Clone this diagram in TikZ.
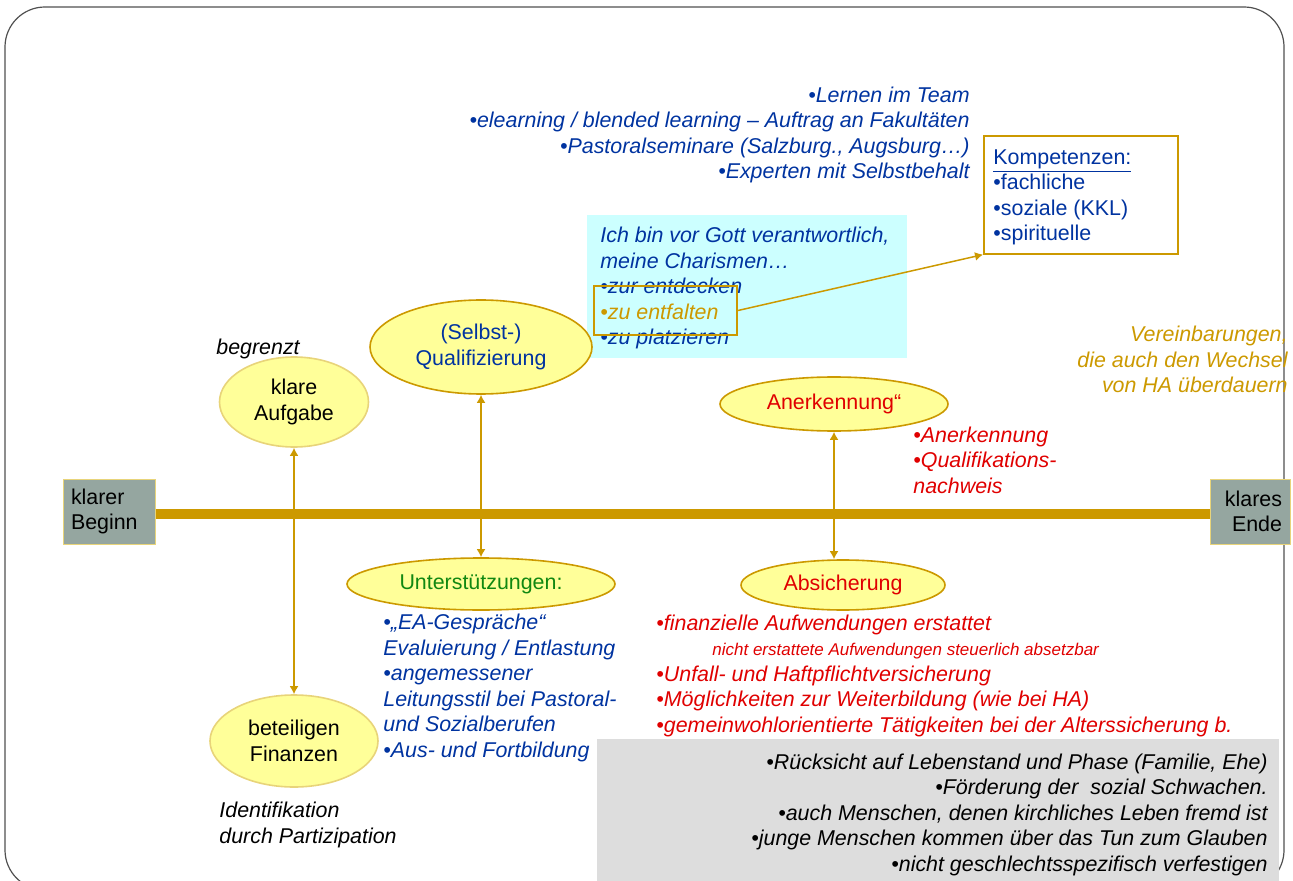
\documentclass[tikz,border=0pt]{standalone}
\usepackage{fontspec}
\setmainfont{Liberation Sans}
\usetikzlibrary{arrows,arrows.meta,positioning,shapes}

\definecolor{gold}{HTML}{CC9900}
\definecolor{blass}{HTML}{E8D47A}
\definecolor{hellgelb}{HTML}{FFFF99}
\definecolor{blau}{HTML}{0033A0}
\definecolor{rot}{HTML}{E00000}
\definecolor{gruen}{HTML}{118811}
\definecolor{schiefer}{HTML}{95A6A0}
\definecolor{hellgrau}{HTML}{DDDDDD}
\definecolor{tuerkis}{HTML}{CCFFFF}
\definecolor{rahmen}{HTML}{505050}

\newcommand{\txt}{\fontsize{10.7}{12.75}\selectfont}

\begin{document}
\begin{tikzpicture}[x=0.5pt,y=-0.5pt,>={Latex[length=4pt,width=4.5pt]},font=\txt,
  ziel/.style={ellipse,fill=hellgelb,draw=gold,line width=0.8pt,inner sep=0pt,align=center},
  pfosten/.style={rectangle,fill=schiefer,draw=blass,line width=0.5pt,minimum height=32.5pt,inner xsep=4pt,inner ysep=0pt},
  liste/.style={inner sep=0pt,align=left,font=\txt\itshape}]
  \useasboundingbox (0,0) rectangle (1293,881);
  \draw[rahmen,line width=0.6pt,rounded corners=20pt] (5,7) rectangle (1284,890);

  % Zeitachse
  \node[pfosten,text width=38pt,align=left]  (beginn) at (109,511.5)  {klarer\\Beginn};
  \node[pfosten,text width=32pt,align=right] (ende)   at (1250,511.5) {klares\\Ende};
  \draw[gold,line width=5pt] ([yshift=-1.25pt]beginn.east) -- ([yshift=-1.25pt]ende.west);

  % Kästen
  \node[fill=tuerkis,anchor=north west,minimum width=160pt,minimum height=71.5pt,inner sep=0pt] (charis) at (587,215) {};
  \node[fill=hellgrau,anchor=north west,minimum width=341pt,minimum height=75.5pt,inner sep=0pt] (grau) at (597,739) {};
  \node[draw=gold,fill=white,line width=0.8pt,anchor=north west,minimum width=97pt,minimum height=59pt,inner sep=0pt] (komp) at (983,135) {};

  % Ellipsen
  \node[ziel,draw=blass,minimum width=74.5pt,minimum height=45pt] (aufgabe) at (294,402) {klare\\Aufgabe};
  \node[ziel,minimum width=111pt,minimum height=47pt,text=blau] (quali) at (481,347) {(Selbst-)\\Qualifizierung};
  \node[ziel,draw=blass,minimum width=84pt,minimum height=46pt] (finanzen) at (294,741) {beteiligen\\Finanzen};
  \node[ziel,minimum width=134pt,minimum height=26pt,text=gruen] (hilfe) at (481,584) {Unterstützungen:};
  \node[ziel,minimum width=114pt,minimum height=27pt,text=rot] (anerk) at (834,404) {Anerkennung“};
  \node[ziel,minimum width=102pt,minimum height=25pt,text=rot] (absich) at (843,585) {Absicherung};

\tikzset{pfeil/.style={gold,line width=1pt}}
  \draw[<->,pfeil] (finanzen) -- (aufgabe);
  \draw[<->,pfeil] (quali) -- (hilfe);
  \draw[<->,pfeil] (anerk.south) -- (anerk.south |- absich.north);

  % Texte (base = letzte Zeile)
  \node[liste,anchor=base west] (begrenzt) at (216,355) {begrenzt};
  \node[liste,anchor=base west] (ident) at (219,843) {Identifikation\\durch Partizipation};
  \node[liste,anchor=base west,text=blau] (hilfeliste) at (383,757)
    {•„EA-Gespräche“\\Evaluierung / Entlastung\\•angemessener\\Leitungsstil bei Pastoral-\\und Sozialberufen\\•Aus- und Fortbildung};
  \node[liste,anchor=base west,text=rot] (anerkliste) at (913,493) {•Anerkennung\\•Qualifikations-\\nachweis};
  \node[liste,anchor=base west,text=rot] (absichliste) at (656,732)
    {•finanzielle Aufwendungen erstattet\\
     \hspace*{28pt}{\fontsize{8.5}{12.75}\selectfont nicht erstattete Aufwendungen steuerlich absetzbar}\\
     •Unfall- und Haftpflichtversicherung\\•Möglichkeiten zur Weiterbildung (wie bei HA)\\
     •gemeinwohlorientierte Tätigkeiten bei der Alterssicherung b.};
  \node[liste,anchor=base east,align=right] (grauliste) at (1268,871)
    {•Rücksicht auf Lebenstand und Phase (Familie, Ehe)\\•Förderung der~ sozial Schwachen.\\
     •auch Menschen, denen kirchliches Leben fremd ist\\•junge Menschen kommen über das Tun zum Glauben\\
     •nicht geschlechtsspezifisch verfestigen};
  \node[liste,anchor=base west,text=blau] (charisliste) at (600,345)
    {Ich bin vor Gott verantwortlich,\\meine Charismen…\\•zur entdecken\\{\color{gold}•zu entfalten}\\•zu platzieren};
  \node[draw=gold,line width=1pt,minimum width=71.5pt,minimum height=24.5pt,inner sep=0pt] (entf) at (665.5,310.5) {};
  \node[anchor=base west,inner sep=0pt,align=left,text=blau] (kompliste) at (993,241)
    {\underline{Kompetenzen:}\\•fachliche\\•soziale (KKL)\\•spirituelle};
  \draw[->,pfeil,line width=0.75pt] (entf.east) -- (komp.south west);
  \node[liste,anchor=base east,align=right,text=blau] (lernen) at (970,179)
    {•Lernen im Team\\•elearning / blended learning – Auftrag an Fakultäten\\•Pastoralseminare (Salzburg., Augsburg…)\\•Experten mit Selbstbehalt};
  \node[liste,anchor=base east,align=right,text=gold] (vereinb) at (1288,393)
    {Vereinbarungen,\\die auch den Wechsel\\von HA überdauern};
\end{tikzpicture}
\end{document}
